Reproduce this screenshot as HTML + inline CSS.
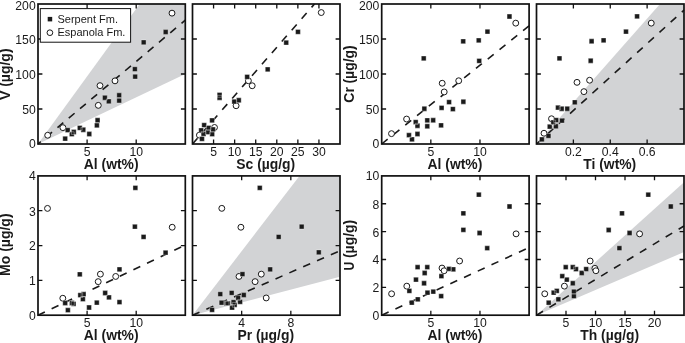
<!DOCTYPE html>
<html><head><meta charset="utf-8"><title>Chart</title>
<style>html,body{margin:0;padding:0;background:#fff}svg{display:block;will-change:transform}</style></head>
<body>
<svg width="685" height="343" viewBox="0 0 685 343" font-family="'Liberation Sans', sans-serif" fill="#1a1a1a">
<rect width="685" height="343" fill="#fff"/>
<polygon fill="#d2d3d5" points="38.00,144.00 185.30,74.09 185.30,4.00 139.66,4.00"/>
<polygon fill="#d2d3d5" points="536.50,144.00 684.00,144.00 684.00,4.00 660.01,4.00"/>
<polygon fill="#d2d3d5" points="192.50,315.20 340.00,276.85 340.00,175.90 299.45,175.90"/>
<polygon fill="#d2d3d5" points="536.50,315.20 684.00,252.07 684.00,182.15"/>
<line x1="38.00" y1="144.00" x2="185.30" y2="20.17" stroke="#1a1a1a" stroke-width="1.6" stroke-dasharray="7.6 7.13" stroke-dashoffset="4.0"/>
<line x1="192.50" y1="144.00" x2="314.50" y2="4.00" stroke="#1a1a1a" stroke-width="1.6" stroke-dasharray="7.6 7.50" stroke-dashoffset="0.0"/>
<line x1="381.70" y1="144.00" x2="529.10" y2="25.88" stroke="#1a1a1a" stroke-width="1.6" stroke-dasharray="7.6 7.50" stroke-dashoffset="0.0"/>
<line x1="536.50" y1="144.00" x2="684.00" y2="10.07" stroke="#1a1a1a" stroke-width="1.6" stroke-dasharray="7.6 7.50" stroke-dashoffset="0.0"/>
<line x1="38.00" y1="315.20" x2="185.30" y2="244.94" stroke="#1a1a1a" stroke-width="1.6" stroke-dasharray="7.6 7.50" stroke-dashoffset="0.0"/>
<line x1="192.50" y1="315.20" x2="340.00" y2="250.74" stroke="#1a1a1a" stroke-width="1.6" stroke-dasharray="7.6 7.50" stroke-dashoffset="0.0"/>
<line x1="381.70" y1="315.20" x2="529.10" y2="247.54" stroke="#1a1a1a" stroke-width="1.6" stroke-dasharray="7.6 7.50" stroke-dashoffset="0.0"/>
<line x1="536.50" y1="315.20" x2="684.00" y2="225.96" stroke="#1a1a1a" stroke-width="1.6" stroke-dasharray="7.6 7.50" stroke-dashoffset="0.0"/>
<circle cx="47.70" cy="135.25" r="2.95" fill="#fff" stroke="#1a1a1a" stroke-width="1.0"/>
<circle cx="62.90" cy="127.65" r="2.95" fill="#fff" stroke="#1a1a1a" stroke-width="1.0"/>
<circle cx="98.30" cy="105.35" r="2.95" fill="#fff" stroke="#1a1a1a" stroke-width="1.0"/>
<circle cx="100.00" cy="85.65" r="2.95" fill="#fff" stroke="#1a1a1a" stroke-width="1.0"/>
<circle cx="115.00" cy="80.85" r="2.95" fill="#fff" stroke="#1a1a1a" stroke-width="1.0"/>
<circle cx="172.00" cy="13.15" r="2.95" fill="#fff" stroke="#1a1a1a" stroke-width="1.0"/>
<path d="M62.78 136.22h4.8v4.8h-4.8zM65.28 127.73h4.8v4.8h-4.8zM69.38 131.82h4.8v4.8h-4.8zM71.38 129.62h4.8v4.8h-4.8zM77.38 125.53h4.8v4.8h-4.8zM80.88 127.33h4.8v4.8h-4.8zM86.88 131.62h4.8v4.8h-4.8zM94.48 123.03h4.8v4.8h-4.8zM95.17 117.83h4.8v4.8h-4.8zM102.48 95.33h4.8v4.8h-4.8zM106.38 98.93h4.8v4.8h-4.8zM116.78 92.83h4.8v4.8h-4.8zM116.78 98.13h4.8v4.8h-4.8zM132.47 66.73h4.8v4.8h-4.8zM132.77 74.23h4.8v4.8h-4.8zM141.27 39.93h4.8v4.8h-4.8zM163.27 29.62h4.8v4.8h-4.8z" fill="#1a1a1a" stroke="#fff" stroke-width="0.35"/>
<circle cx="199.40" cy="135.15" r="2.95" fill="#fff" stroke="#1a1a1a" stroke-width="1.0"/>
<circle cx="214.50" cy="127.45" r="2.95" fill="#fff" stroke="#1a1a1a" stroke-width="1.0"/>
<circle cx="236.10" cy="105.75" r="2.95" fill="#fff" stroke="#1a1a1a" stroke-width="1.0"/>
<circle cx="248.40" cy="80.75" r="2.95" fill="#fff" stroke="#1a1a1a" stroke-width="1.0"/>
<circle cx="252.20" cy="85.75" r="2.95" fill="#fff" stroke="#1a1a1a" stroke-width="1.0"/>
<circle cx="321.25" cy="12.55" r="2.95" fill="#fff" stroke="#1a1a1a" stroke-width="1.0"/>
<path d="M199.57 136.42h4.8v4.8h-4.8zM198.77 127.92h4.8v4.8h-4.8zM201.77 122.73h4.8v4.8h-4.8zM201.17 131.42h4.8v4.8h-4.8zM206.17 125.43h4.8v4.8h-4.8zM205.38 129.82h4.8v4.8h-4.8zM209.77 131.82h4.8v4.8h-4.8zM210.57 127.03h4.8v4.8h-4.8zM209.67 118.03h4.8v4.8h-4.8zM217.17 95.33h4.8v4.8h-4.8zM217.17 92.43h4.8v4.8h-4.8zM231.88 99.13h4.8v4.8h-4.8zM236.38 97.83h4.8v4.8h-4.8zM244.77 74.53h4.8v4.8h-4.8zM265.27 67.03h4.8v4.8h-4.8zM283.82 40.23h4.8v4.8h-4.8zM295.57 29.47h4.8v4.8h-4.8z" fill="#1a1a1a" stroke="#fff" stroke-width="0.35"/>
<circle cx="391.50" cy="133.65" r="2.95" fill="#fff" stroke="#1a1a1a" stroke-width="1.0"/>
<circle cx="406.60" cy="119.05" r="2.95" fill="#fff" stroke="#1a1a1a" stroke-width="1.0"/>
<circle cx="442.20" cy="83.25" r="2.95" fill="#fff" stroke="#1a1a1a" stroke-width="1.0"/>
<circle cx="444.20" cy="91.95" r="2.95" fill="#fff" stroke="#1a1a1a" stroke-width="1.0"/>
<circle cx="458.70" cy="80.75" r="2.95" fill="#fff" stroke="#1a1a1a" stroke-width="1.0"/>
<circle cx="515.75" cy="23.15" r="2.95" fill="#fff" stroke="#1a1a1a" stroke-width="1.0"/>
<path d="M406.57 132.82h4.8v4.8h-4.8zM409.57 136.92h4.8v4.8h-4.8zM413.32 119.73h4.8v4.8h-4.8zM415.07 123.33h4.8v4.8h-4.8zM415.07 131.62h4.8v4.8h-4.8zM421.97 106.33h4.8v4.8h-4.8zM424.88 117.93h4.8v4.8h-4.8zM424.88 123.83h4.8v4.8h-4.8zM430.77 117.83h4.8v4.8h-4.8zM438.68 122.93h4.8v4.8h-4.8zM439.18 105.43h4.8v4.8h-4.8zM446.68 99.73h4.8v4.8h-4.8zM450.47 106.63h4.8v4.8h-4.8zM460.97 99.33h4.8v4.8h-4.8zM421.32 56.02h4.8v4.8h-4.8zM460.82 38.93h4.8v4.8h-4.8zM476.32 38.02h4.8v4.8h-4.8zM485.07 29.22h4.8v4.8h-4.8zM507.07 14.12h4.8v4.8h-4.8zM476.82 58.52h4.8v4.8h-4.8z" fill="#1a1a1a" stroke="#fff" stroke-width="0.35"/>
<circle cx="544.00" cy="133.25" r="2.95" fill="#fff" stroke="#1a1a1a" stroke-width="1.0"/>
<circle cx="551.50" cy="118.75" r="2.95" fill="#fff" stroke="#1a1a1a" stroke-width="1.0"/>
<circle cx="583.90" cy="91.65" r="2.95" fill="#fff" stroke="#1a1a1a" stroke-width="1.0"/>
<circle cx="577.00" cy="82.35" r="2.95" fill="#fff" stroke="#1a1a1a" stroke-width="1.0"/>
<circle cx="589.60" cy="80.25" r="2.95" fill="#fff" stroke="#1a1a1a" stroke-width="1.0"/>
<circle cx="651.25" cy="23.15" r="2.95" fill="#fff" stroke="#1a1a1a" stroke-width="1.0"/>
<path d="M539.48 137.03h4.8v4.8h-4.8zM546.08 133.47h4.8v4.8h-4.8zM547.33 124.23h4.8v4.8h-4.8zM550.83 120.03h4.8v4.8h-4.8zM553.48 123.83h4.8v4.8h-4.8zM553.78 117.73h4.8v4.8h-4.8zM559.58 118.23h4.8v4.8h-4.8zM555.58 105.13h4.8v4.8h-4.8zM559.23 106.33h4.8v4.8h-4.8zM564.83 106.33h4.8v4.8h-4.8zM572.38 99.88h4.8v4.8h-4.8zM557.08 56.02h4.8v4.8h-4.8zM589.18 38.83h4.8v4.8h-4.8zM601.18 37.93h4.8v4.8h-4.8zM588.28 58.33h4.8v4.8h-4.8zM623.58 29.22h4.8v4.8h-4.8zM634.68 14.02h4.8v4.8h-4.8z" fill="#1a1a1a" stroke="#fff" stroke-width="0.35"/>
<circle cx="62.80" cy="298.25" r="2.95" fill="#fff" stroke="#1a1a1a" stroke-width="1.0"/>
<circle cx="98.20" cy="281.65" r="2.95" fill="#fff" stroke="#1a1a1a" stroke-width="1.0"/>
<circle cx="100.40" cy="274.15" r="2.95" fill="#fff" stroke="#1a1a1a" stroke-width="1.0"/>
<circle cx="115.70" cy="276.45" r="2.95" fill="#fff" stroke="#1a1a1a" stroke-width="1.0"/>
<circle cx="172.20" cy="227.25" r="2.95" fill="#fff" stroke="#1a1a1a" stroke-width="1.0"/>
<circle cx="47.50" cy="208.40" r="2.95" fill="#fff" stroke="#1a1a1a" stroke-width="1.0"/>
<path d="M62.78 300.62h4.8v4.8h-4.8zM65.48 307.82h4.8v4.8h-4.8zM71.17 301.47h4.8v4.8h-4.8zM69.48 300.62h4.8v4.8h-4.8zM77.38 271.92h4.8v4.8h-4.8zM77.88 292.72h4.8v4.8h-4.8zM81.17 291.82h4.8v4.8h-4.8zM80.48 296.72h4.8v4.8h-4.8zM86.67 305.12h4.8v4.8h-4.8zM94.38 300.22h4.8v4.8h-4.8zM102.78 290.62h4.8v4.8h-4.8zM106.58 295.02h4.8v4.8h-4.8zM117.08 267.02h4.8v4.8h-4.8zM117.08 299.72h4.8v4.8h-4.8zM132.97 185.42h4.8v4.8h-4.8zM132.47 224.32h4.8v4.8h-4.8zM141.17 234.53h4.8v4.8h-4.8zM163.17 250.32h4.8v4.8h-4.8z" fill="#1a1a1a" stroke="#fff" stroke-width="0.35"/>
<circle cx="239.00" cy="276.45" r="2.95" fill="#fff" stroke="#1a1a1a" stroke-width="1.0"/>
<circle cx="255.10" cy="281.65" r="2.95" fill="#fff" stroke="#1a1a1a" stroke-width="1.0"/>
<circle cx="261.30" cy="274.15" r="2.95" fill="#fff" stroke="#1a1a1a" stroke-width="1.0"/>
<circle cx="266.20" cy="297.95" r="2.95" fill="#fff" stroke="#1a1a1a" stroke-width="1.0"/>
<circle cx="221.80" cy="208.35" r="2.95" fill="#fff" stroke="#1a1a1a" stroke-width="1.0"/>
<circle cx="240.90" cy="227.25" r="2.95" fill="#fff" stroke="#1a1a1a" stroke-width="1.0"/>
<path d="M209.67 307.42h4.8v4.8h-4.8zM217.88 291.72h4.8v4.8h-4.8zM219.17 300.32h4.8v4.8h-4.8zM224.17 301.02h4.8v4.8h-4.8zM225.57 301.02h4.8v4.8h-4.8zM229.27 290.52h4.8v4.8h-4.8zM229.67 305.22h4.8v4.8h-4.8zM232.27 302.42h4.8v4.8h-4.8zM231.17 299.72h4.8v4.8h-4.8zM235.77 295.62h4.8v4.8h-4.8zM237.67 299.42h4.8v4.8h-4.8zM241.38 292.62h4.8v4.8h-4.8zM240.07 271.72h4.8v4.8h-4.8zM267.77 267.02h4.8v4.8h-4.8zM257.38 185.42h4.8v4.8h-4.8zM299.27 224.22h4.8v4.8h-4.8zM276.27 234.53h4.8v4.8h-4.8zM316.38 249.92h4.8v4.8h-4.8z" fill="#1a1a1a" stroke="#fff" stroke-width="0.35"/>
<circle cx="391.60" cy="293.80" r="2.95" fill="#fff" stroke="#1a1a1a" stroke-width="1.0"/>
<circle cx="406.80" cy="286.15" r="2.95" fill="#fff" stroke="#1a1a1a" stroke-width="1.0"/>
<circle cx="442.00" cy="268.05" r="2.95" fill="#fff" stroke="#1a1a1a" stroke-width="1.0"/>
<circle cx="444.10" cy="270.75" r="2.95" fill="#fff" stroke="#1a1a1a" stroke-width="1.0"/>
<circle cx="459.60" cy="261.00" r="2.95" fill="#fff" stroke="#1a1a1a" stroke-width="1.0"/>
<circle cx="516.10" cy="233.85" r="2.95" fill="#fff" stroke="#1a1a1a" stroke-width="1.0"/>
<path d="M406.97 288.52h4.8v4.8h-4.8zM409.38 300.32h4.8v4.8h-4.8zM415.38 296.92h4.8v4.8h-4.8zM413.57 277.22h4.8v4.8h-4.8zM415.18 264.82h4.8v4.8h-4.8zM421.68 280.87h4.8v4.8h-4.8zM422.27 270.62h4.8v4.8h-4.8zM424.88 264.82h4.8v4.8h-4.8zM425.07 290.32h4.8v4.8h-4.8zM430.88 289.22h4.8v4.8h-4.8zM438.77 293.72h4.8v4.8h-4.8zM439.02 273.82h4.8v4.8h-4.8zM446.68 266.42h4.8v4.8h-4.8zM450.88 266.92h4.8v4.8h-4.8zM460.97 227.42h4.8v4.8h-4.8zM476.43 192.32h4.8v4.8h-4.8zM460.97 210.92h4.8v4.8h-4.8zM477.18 230.62h4.8v4.8h-4.8zM484.82 245.82h4.8v4.8h-4.8zM507.12 204.12h4.8v4.8h-4.8z" fill="#1a1a1a" stroke="#fff" stroke-width="0.35"/>
<circle cx="544.75" cy="293.80" r="2.95" fill="#fff" stroke="#1a1a1a" stroke-width="1.0"/>
<circle cx="564.40" cy="286.15" r="2.95" fill="#fff" stroke="#1a1a1a" stroke-width="1.0"/>
<circle cx="590.15" cy="261.00" r="2.95" fill="#fff" stroke="#1a1a1a" stroke-width="1.0"/>
<circle cx="594.90" cy="268.35" r="2.95" fill="#fff" stroke="#1a1a1a" stroke-width="1.0"/>
<circle cx="595.90" cy="270.75" r="2.95" fill="#fff" stroke="#1a1a1a" stroke-width="1.0"/>
<circle cx="639.60" cy="233.85" r="2.95" fill="#fff" stroke="#1a1a1a" stroke-width="1.0"/>
<path d="M546.28 300.32h4.8v4.8h-4.8zM551.28 290.32h4.8v4.8h-4.8zM554.38 288.52h4.8v4.8h-4.8zM555.98 296.92h4.8v4.8h-4.8zM559.88 273.82h4.8v4.8h-4.8zM563.33 264.82h4.8v4.8h-4.8zM564.38 277.22h4.8v4.8h-4.8zM570.38 264.82h4.8v4.8h-4.8zM570.38 280.87h4.8v4.8h-4.8zM571.48 289.22h4.8v4.8h-4.8zM571.48 293.72h4.8v4.8h-4.8zM573.58 266.72h4.8v4.8h-4.8zM579.33 270.62h4.8v4.8h-4.8zM583.78 266.72h4.8v4.8h-4.8zM606.28 227.62h4.8v4.8h-4.8zM617.03 245.78h4.8v4.8h-4.8zM645.88 192.32h4.8v4.8h-4.8zM619.58 210.92h4.8v4.8h-4.8zM627.18 230.62h4.8v4.8h-4.8zM668.38 204.12h4.8v4.8h-4.8z" fill="#1a1a1a" stroke="#fff" stroke-width="0.35"/>
<rect x="38.00" y="4.00" width="147.30" height="140.00" fill="none" stroke="#111" stroke-width="1.7"/>
<path d="M87.10 4.00v4.4M87.10 144.00v-4.4M136.20 4.00v4.4M136.20 144.00v-4.4M38.00 109.00h4.4M185.30 109.00h-4.4M38.00 74.00h4.4M185.30 74.00h-4.4M38.00 39.00h4.4M185.30 39.00h-4.4" stroke="#111" stroke-width="1.3" fill="none"/>
<rect x="192.50" y="4.00" width="147.50" height="140.00" fill="none" stroke="#111" stroke-width="1.7"/>
<path d="M213.57 4.00v4.4M213.57 144.00v-4.4M234.64 4.00v4.4M234.64 144.00v-4.4M255.71 4.00v4.4M255.71 144.00v-4.4M276.79 4.00v4.4M276.79 144.00v-4.4M297.86 4.00v4.4M297.86 144.00v-4.4M318.93 4.00v4.4M318.93 144.00v-4.4M192.50 109.00h4.4M340.00 109.00h-4.4M192.50 74.00h4.4M340.00 74.00h-4.4M192.50 39.00h4.4M340.00 39.00h-4.4" stroke="#111" stroke-width="1.3" fill="none"/>
<rect x="381.70" y="4.00" width="147.40" height="140.00" fill="none" stroke="#111" stroke-width="1.7"/>
<path d="M430.83 4.00v4.4M430.83 144.00v-4.4M479.97 4.00v4.4M479.97 144.00v-4.4M381.70 109.00h4.4M529.10 109.00h-4.4M381.70 74.00h4.4M529.10 74.00h-4.4M381.70 39.00h4.4M529.10 39.00h-4.4" stroke="#111" stroke-width="1.3" fill="none"/>
<rect x="536.50" y="4.00" width="147.50" height="140.00" fill="none" stroke="#111" stroke-width="1.7"/>
<path d="M573.38 4.00v4.4M573.38 144.00v-4.4M610.25 4.00v4.4M610.25 144.00v-4.4M647.12 4.00v4.4M647.12 144.00v-4.4M536.50 109.00h4.4M684.00 109.00h-4.4M536.50 74.00h4.4M684.00 74.00h-4.4M536.50 39.00h4.4M684.00 39.00h-4.4" stroke="#111" stroke-width="1.3" fill="none"/>
<rect x="38.00" y="175.90" width="147.30" height="139.30" fill="none" stroke="#111" stroke-width="1.7"/>
<path d="M87.10 175.90v4.4M87.10 315.20v-4.4M136.20 175.90v4.4M136.20 315.20v-4.4M38.00 280.38h4.4M185.30 280.38h-4.4M38.00 245.55h4.4M185.30 245.55h-4.4M38.00 210.72h4.4M185.30 210.72h-4.4" stroke="#111" stroke-width="1.3" fill="none"/>
<rect x="192.50" y="175.90" width="147.50" height="139.30" fill="none" stroke="#111" stroke-width="1.7"/>
<path d="M241.67 175.90v4.4M241.67 315.20v-4.4M290.83 175.90v4.4M290.83 315.20v-4.4M192.50 280.38h4.4M340.00 280.38h-4.4M192.50 245.55h4.4M340.00 245.55h-4.4M192.50 210.72h4.4M340.00 210.72h-4.4" stroke="#111" stroke-width="1.3" fill="none"/>
<rect x="381.70" y="175.90" width="147.40" height="139.30" fill="none" stroke="#111" stroke-width="1.7"/>
<path d="M430.83 175.90v4.4M430.83 315.20v-4.4M479.97 175.90v4.4M479.97 315.20v-4.4M381.70 287.34h4.4M529.10 287.34h-4.4M381.70 259.48h4.4M529.10 259.48h-4.4M381.70 231.62h4.4M529.10 231.62h-4.4M381.70 203.76h4.4M529.10 203.76h-4.4" stroke="#111" stroke-width="1.3" fill="none"/>
<rect x="536.50" y="175.90" width="147.50" height="139.30" fill="none" stroke="#111" stroke-width="1.7"/>
<path d="M566.00 175.90v4.4M566.00 315.20v-4.4M595.50 175.90v4.4M595.50 315.20v-4.4M625.00 175.90v4.4M625.00 315.20v-4.4M654.50 175.90v4.4M654.50 315.20v-4.4M536.50 287.34h4.4M684.00 287.34h-4.4M536.50 259.48h4.4M684.00 259.48h-4.4M536.50 231.62h4.4M684.00 231.62h-4.4M536.50 203.76h4.4M684.00 203.76h-4.4" stroke="#111" stroke-width="1.3" fill="none"/>
<text x="87.10" y="156.00" font-size="12.2" text-anchor="middle">5</text>
<text x="136.20" y="156.00" font-size="12.2" text-anchor="middle">10</text>
<text x="111.15" y="168.60" font-size="13.9" font-weight="bold" text-anchor="middle">Al (wt%)</text>
<text x="213.57" y="156.00" font-size="12.2" text-anchor="middle">5</text>
<text x="234.64" y="156.00" font-size="12.2" text-anchor="middle">10</text>
<text x="255.71" y="156.00" font-size="12.2" text-anchor="middle">15</text>
<text x="276.79" y="156.00" font-size="12.2" text-anchor="middle">20</text>
<text x="297.86" y="156.00" font-size="12.2" text-anchor="middle">25</text>
<text x="318.93" y="156.00" font-size="12.2" text-anchor="middle">30</text>
<text x="265.75" y="168.60" font-size="13.9" font-weight="bold" text-anchor="middle">Sc (µg/g)</text>
<text x="430.83" y="156.00" font-size="12.2" text-anchor="middle">5</text>
<text x="479.97" y="156.00" font-size="12.2" text-anchor="middle">10</text>
<text x="454.90" y="168.60" font-size="13.9" font-weight="bold" text-anchor="middle">Al (wt%)</text>
<text x="573.38" y="156.00" font-size="12.2" text-anchor="middle">0.2</text>
<text x="610.25" y="156.00" font-size="12.2" text-anchor="middle">0.4</text>
<text x="647.12" y="156.00" font-size="12.2" text-anchor="middle">0.6</text>
<text x="609.75" y="168.60" font-size="13.9" font-weight="bold" text-anchor="middle">Ti (wt%)</text>
<text x="87.10" y="327.20" font-size="12.2" text-anchor="middle">5</text>
<text x="136.20" y="327.20" font-size="12.2" text-anchor="middle">10</text>
<text x="111.15" y="339.80" font-size="13.9" font-weight="bold" text-anchor="middle">Al (wt%)</text>
<text x="241.67" y="327.20" font-size="12.2" text-anchor="middle">4</text>
<text x="290.83" y="327.20" font-size="12.2" text-anchor="middle">8</text>
<text x="265.75" y="339.80" font-size="13.9" font-weight="bold" text-anchor="middle">Pr (µg/g)</text>
<text x="430.83" y="327.20" font-size="12.2" text-anchor="middle">5</text>
<text x="479.97" y="327.20" font-size="12.2" text-anchor="middle">10</text>
<text x="454.90" y="339.80" font-size="13.9" font-weight="bold" text-anchor="middle">Al (wt%)</text>
<text x="566.00" y="327.20" font-size="12.2" text-anchor="middle">5</text>
<text x="595.50" y="327.20" font-size="12.2" text-anchor="middle">10</text>
<text x="625.00" y="327.20" font-size="12.2" text-anchor="middle">15</text>
<text x="654.50" y="327.20" font-size="12.2" text-anchor="middle">20</text>
<text x="609.75" y="339.80" font-size="13.9" font-weight="bold" text-anchor="middle">Th (µg/g)</text>
<text x="35.70" y="148.40" font-size="12.2" text-anchor="end">0</text>
<text x="35.70" y="113.90" font-size="12.2" text-anchor="end">50</text>
<text x="35.70" y="78.90" font-size="12.2" text-anchor="end">100</text>
<text x="35.70" y="43.90" font-size="12.2" text-anchor="end">150</text>
<text x="35.70" y="9.70" font-size="12.2" text-anchor="end">200</text>
<text transform="translate(9.90 99.95) rotate(-90) scale(1.000 1.000)" font-weight="bold" font-size="14.3">V</text>
<text transform="translate(9.90 86.80) rotate(-90)" font-weight="bold" font-size="14.0">(µg/g)</text>
<text x="379.40" y="148.40" font-size="12.2" text-anchor="end">0</text>
<text x="379.40" y="113.90" font-size="12.2" text-anchor="end">50</text>
<text x="379.40" y="78.90" font-size="12.2" text-anchor="end">100</text>
<text x="379.40" y="43.90" font-size="12.2" text-anchor="end">150</text>
<text x="379.40" y="9.70" font-size="12.2" text-anchor="end">200</text>
<text transform="translate(353.60 102.70) rotate(-90) scale(1.000 1.000)" font-weight="bold" font-size="14.0">Cr</text>
<text transform="translate(353.60 83.60) rotate(-90)" font-weight="bold" font-size="14.0">(µg/g)</text>
<text x="35.70" y="320.10" font-size="12.2" text-anchor="end">0</text>
<text x="35.70" y="285.27" font-size="12.2" text-anchor="end">1</text>
<text x="35.70" y="250.45" font-size="12.2" text-anchor="end">2</text>
<text x="35.70" y="215.62" font-size="12.2" text-anchor="end">3</text>
<text x="35.70" y="180.30" font-size="12.2" text-anchor="end">4</text>
<text transform="translate(10.40 275.90) rotate(-90) scale(1.000 1.000)" font-weight="bold" font-size="14.0">Mo</text>
<text transform="translate(10.40 251.80) rotate(-90)" font-weight="bold" font-size="14.0">(µg/g)</text>
<text x="379.40" y="320.10" font-size="12.2" text-anchor="end">0</text>
<text x="379.40" y="292.24" font-size="12.2" text-anchor="end">2</text>
<text x="379.40" y="264.38" font-size="12.2" text-anchor="end">4</text>
<text x="379.40" y="236.52" font-size="12.2" text-anchor="end">6</text>
<text x="379.40" y="208.66" font-size="12.2" text-anchor="end">8</text>
<text x="379.40" y="180.30" font-size="12.2" text-anchor="end">10</text>
<text transform="translate(353.60 270.60) rotate(-90) scale(0.886 1.110)" font-weight="bold" font-size="13.7">U</text>
<text transform="translate(353.60 258.10) rotate(-90)" font-weight="bold" font-size="14.0">(µg/g)</text>
<rect x="40.3" y="8.6" width="90.3" height="33.6" fill="#fff" stroke="#111" stroke-width="1"/>
<rect x="47.7" y="16.9" width="4.5" height="4.5" fill="#1a1a1a"/>
<circle cx="49.9" cy="32.7" r="2.85" fill="#fff" stroke="#1a1a1a" stroke-width="1.0"/>
<text x="57.5" y="22.5" font-size="11.0">Serpent Fm.</text>
<text x="57.5" y="35.6" font-size="11.0">Espanola Fm.</text>
</svg>
</body></html>
